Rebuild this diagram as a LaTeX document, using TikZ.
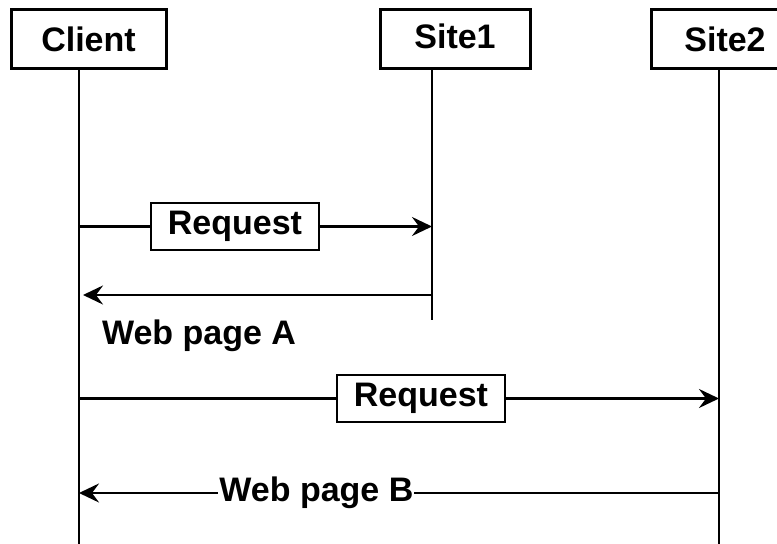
\documentclass[tikz,border=0pt]{standalone}
\usepackage{fontspec}
\setmainfont{Liberation Sans}
\usetikzlibrary{arrows.meta,positioning}

\begin{document}
\begin{tikzpicture}[
  x=0.5pt, y=-0.5pt,
  every node/.style={font=\fontsize{17}{20}\selectfont\bfseries},
  actor/.style={draw, line width=1.5pt, minimum width=77.5pt, minimum height=29.5pt, inner sep=0pt},
  msgbox/.style={draw, line width=1.4pt, minimum width=84pt, minimum height=23.5pt, inner sep=0pt},
  life/.style={line width=1.2pt},
  arr/.style={line width=1.2pt, -{Stealth[length=10pt,width=9.5pt,inset=3.5pt]}}
]
\useasboundingbox (0,0) rectangle (777,544);
% actors
\node[actor] (client) at (88.5,39.5) {Client};
\node[actor, minimum width=75pt] (site1) at (455,39) {\raisebox{3pt}{Site1}};
\node[actor, minimum width=74pt] (site2) at (725,39) {Site2};
% lifelines
\coordinate (cl end) at (79,544);
\coordinate (s1 end) at (432,320);
\coordinate (s2 end) at (719,544);
\draw[life] (client.south -| cl end) -- (cl end);
\draw[life] (site1.south -| s1 end) -- (s1 end);
\draw[life] (site2.south -| s2 end) -- (s2 end);
% client -> site1
\node[msgbox] (req1) at (235,226.5) {Request};
\draw[life] (req1.west -| cl end) -- (req1.west);
\draw[arr] (req1.east) -- (req1.east -| s1 end);
\coordinate (a1) at (432,295);
\draw[arr, shorten >=2pt] (a1) -- (a1 -| cl end);
\node (pageA) at (199,336) {Web page A};
% client -> site2
\node[msgbox] (req2) at (421,398.5) {Request};
\draw[life] (req2.west -| cl end) -- (req2.west);
\draw[arr] (req2.east) -- (req2.east -| s2 end);
\coordinate (b1) at (719,493);
\draw[arr] (b1) -- node[pos=0.629, fill=white, inner sep=0.5pt] (pageB) {Web page B} (b1 -| cl end);
\end{tikzpicture}
\end{document}
